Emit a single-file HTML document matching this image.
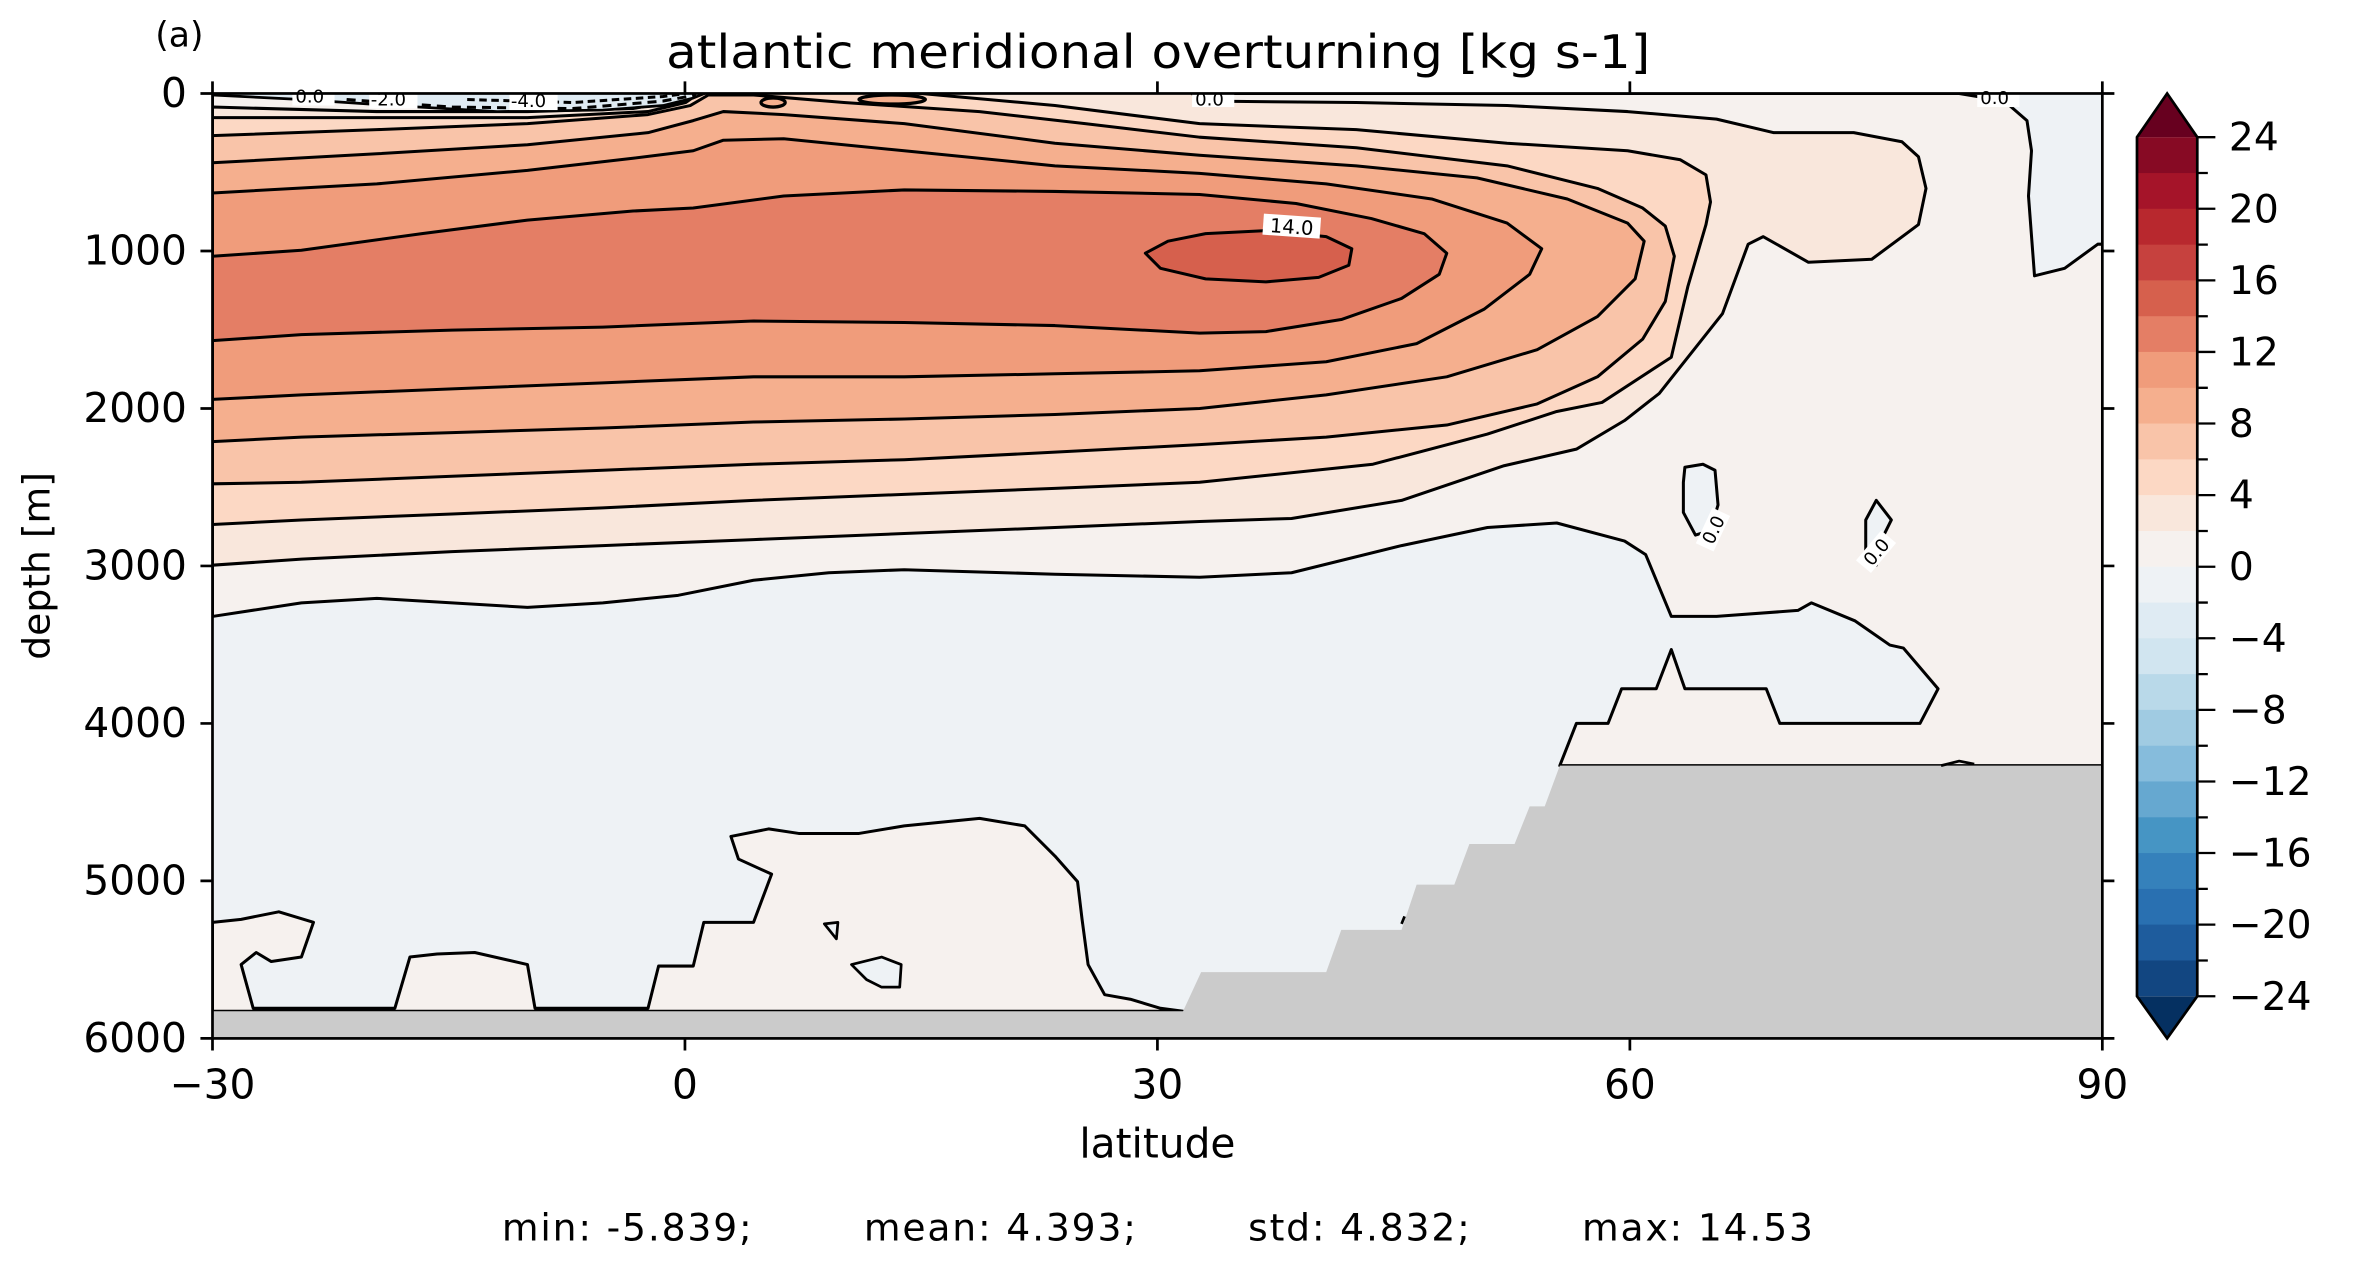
<!DOCTYPE html>
<html><head><meta charset="utf-8"><style>
html,body{margin:0;padding:0;background:#fff;}
svg{display:block;}
text{font-family:"DejaVu Sans","Liberation Sans",sans-serif;fill:#000;}
</style></head><body>
<svg width="2362" height="1263" viewBox="0 0 1567.3 838" xmlns="http://www.w3.org/2000/svg">
<defs><clipPath id="ax"><rect x="141" y="62" width="1254" height="627"/></clipPath></defs>
<g clip-path="url(#ax)" stroke-linejoin="round">
<rect x="141" y="62" width="1254" height="627" fill="#eef2f5"/>
<path fill="#f6f1ee" stroke="#000" stroke-width="2" fill-rule="evenodd" d="M141,62 L1300,62 L1330,67 L1345,80 L1348,100 L1346,130 L1350,183 L1370,178 L1392,162 L1396,162 L1396,508 L1035,508 L1046,480 L1067,480 L1076,457 L1099,457 L1109,431 L1118,457 L1172,457 L1181,480 L1274,480 L1286,457 L1263,430 L1254,428 L1231,412 L1202,400 L1193,405 L1139,409 L1109,409 L1092,368 L1078,359 L1033,347 L987,350 L930,362 L857,380 L796,383 L700,381 L600,378 L550,380 L500,385 L450,395 L400,400 L350,403 L300,400 L250,397 L200,400 L141,409 Z"/>
<path fill="#f9e7dc" stroke="#000" stroke-width="2" d="M141,71 L250,74 L350,74 L420,72 L452,66 L460,61 L790,61 L796,67 L900,68 L1000,70 L1080,74 L1139,79 L1177,88 L1230,88 L1262,94 L1273,104 L1278,125 L1273,149 L1242,172 L1200,174 L1170,157 L1160,162 L1143,208 L1101,261 L1078,279 L1046,298 L998,309 L930,332 L857,344 L796,346 L700,350 L600,354 L500,358 L400,362 L300,366 L200,371 L141,375 Z"/>
<path fill="#fcd8c4" stroke="#000" stroke-width="2" d="M141,78 L250,78 L350,78 L430,74 L455,68 L465,61 L600,61 L700,70 L796,82 L900,86 L1000,95 L1080,100 L1115,106 L1132,116 L1135,134 L1132,149 L1120,190 L1109,237 L1063,267 L1033,273 L987,288 L911,308 L796,320 L700,324 L600,328 L500,332 L400,337 L300,341 L200,345 L141,348 Z"/>
<path fill="#f9c4a9" stroke="#000" stroke-width="2" d="M141,90 L250,86 L350,82 L430,76 L458,70 L470,63 L500,63 L560,68 L650,74 L720,82 L796,91 L900,98 L1000,110 L1060,125 L1090,138 L1105,150 L1111,170 L1105,200 L1090,225 L1060,250 L1020,268 L960,282 L880,290 L796,295 L700,300 L600,305 L500,308 L400,312 L300,316 L200,320 L141,321 Z"/>
<path fill="#f5af8e" stroke="#000" stroke-width="2" d="M141,108 L250,102 L350,96 L430,88 L460,80 L480,74 L520,76 L600,82 L700,95 L796,103 L900,110 L980,118 L1040,132 L1080,148 L1091,160 L1085,185 L1060,210 L1020,232 L960,250 L880,262 L796,271 L700,275 L600,278 L500,280 L400,284 L300,287 L200,290 L141,293 Z"/>
<path fill="#f09c7b" stroke="#000" stroke-width="2" d="M141,128 L250,122 L350,113 L420,105 L460,100 L480,93 L520,92 L600,100 L700,110 L796,115 L880,122 L950,132 L1000,148 L1023,165 L1015,182 L985,205 L940,228 L880,240 L796,246 L700,248 L600,250 L500,250 L400,254 L300,258 L200,262 L141,265 Z"/>
<path fill="#e47e65" stroke="#000" stroke-width="2" d="M141,170 L200,166 L280,155 L350,146 L420,140 L460,138 L520,130 L600,126 L700,127 L796,129 L860,135 L910,145 L945,155 L960,168 L955,182 L930,198 L890,212 L840,220 L796,221 L700,216 L600,214 L500,213 L400,217 L300,219 L200,222 L141,226 Z"/>
<path fill="#d6604d" stroke="#000" stroke-width="2" d="M760,168 L775,160 L800,155 L840,153 L880,157 L897,165 L895,176 L875,184 L840,187 L800,185 L770,178 Z"/>
<ellipse cx="513" cy="68" rx="8" ry="3" fill="#f5af8e" stroke="#000" stroke-width="2.2"/>
<ellipse cx="592" cy="66" rx="22" ry="3" fill="#f5af8e" stroke="#000" stroke-width="2.2"/>
<path fill="#eef2f5" stroke="#000" stroke-width="2" d="M1118,310 L1130,308 L1138,312 L1140,335 L1135,352 L1125,355 L1117,340 L1117,320 Z"/>
<path fill="#eef2f5" stroke="#000" stroke-width="2" d="M1238,345 L1245,332 L1255,345 L1250,355 L1245,375 L1238,365 Z"/>
<path fill="#f6f1ee" stroke="#000" stroke-width="2" d="M141,612 L160,610 L185,605 L208,612 L200,635 L180,638 L170,632 L160,640 L168,669 L262,669 L272,635 L290,633 L315,632 L350,640 L355,669 L430,669 L437,641 L460,641 L467,612 L500,612 L512,580 L490,570 L485,555 L510,550 L530,553 L570,553 L600,548 L630,545 L650,543 L680,548 L700,568 L715,585 L718,610 L722,640 L733,660 L750,663 L770,669 L785,671 L141,671 Z"/>
<path fill="#eef2f5" stroke="#000" stroke-width="1.8" d="M547,613 L556,612 L555,623 Z"/>
<path fill="#eef2f5" stroke="#000" stroke-width="1.8" d="M565,640 L585,635 L598,640 L597,655 L585,655 L575,650 Z"/>
<path fill="#cbcbcb" d="M141,671 L785,671 L797,645 L880,645 L890,617 L930,617 L940,587 L965,587 L975,560 L1005,560 L1015,535 L1025,535 L1035,508 L1396,508 L1396,690 L141,690 Z"/>
<path fill="none" stroke="#000" stroke-width="1.8" d="M1288,508 L1300,505 L1310,507"/>
<path fill="none" stroke="#000" stroke-width="1.8" d="M930,613 L932,608"/>
<path fill="#dfebf3" stroke="#000" stroke-width="1.8" d="M141,63 L200,66 L260,70 L330,74 L400,73 L440,70 L460,65 L470,61 L141,61 Z"/>
<path fill="none" stroke="#000" stroke-width="2" stroke-dasharray="6,4" d="M230,66 L300,71 L380,72 L440,67 L462,63"/>
<path fill="none" stroke="#000" stroke-width="2" stroke-dasharray="5,3" d="M310,66 L380,68 L440,64 L455,62"/>
</g>
<g font-size="12">
<rect x="194" y="58" width="28" height="12" fill="#fff"/><text x="196" y="68">0.0</text>
<rect x="245" y="60" width="32" height="12" fill="#fff"/><text x="246" y="70">-2.0</text>
<rect x="338" y="61" width="32" height="12" fill="#fff"/><text x="339" y="71">-4.0</text>
<rect x="791" y="60" width="28" height="11" fill="#fff"/><text x="793" y="70">0.0</text>
<rect x="1312" y="60" width="28" height="11" fill="#fff"/><text x="1314" y="69">0.0</text>
<g transform="translate(857,152) rotate(4)"><rect x="-19" y="-9" width="38" height="14" fill="#fff"/><text x="0" y="3" text-anchor="middle" font-size="13">14.0</text></g>
<g transform="translate(1138,352) rotate(-65)"><rect x="-13" y="-8" width="26" height="13" fill="#fff"/><text x="0" y="3" text-anchor="middle">0.0</text></g>
<g transform="translate(1246,367) rotate(-50)"><rect x="-13" y="-8" width="26" height="13" fill="#fff"/><text x="0" y="3" text-anchor="middle">0.0</text></g>
</g>
<g stroke="#000" stroke-width="1.8" fill="none">
<rect x="141" y="62" width="1254" height="627"/>
<path d="M141,689 v8 M454.5,689 v8 M768,689 v8 M1081.5,689 v8 M1395,689 v8 M141,62 v-8 M454.5,62 v-8 M768,62 v-8 M1081.5,62 v-8 M1395,62 v-8"/>
<path d="M141,62 h-8 M141,166.5 h-8 M141,271 h-8 M141,375.5 h-8 M141,480 h-8 M141,584.5 h-8 M141,689 h-8 M1395,62 h8 M1395,166.5 h8 M1395,271 h8 M1395,375.5 h8 M1395,480 h8 M1395,584.5 h8 M1395,689 h8"/>
</g>
<g font-size="27">
<g text-anchor="end">
<text x="124" y="71">0</text><text x="124" y="175.5">1000</text><text x="124" y="280">2000</text><text x="124" y="384.5">3000</text><text x="124" y="489">4000</text><text x="124" y="593.5">5000</text><text x="124" y="698">6000</text>
</g>
<g text-anchor="middle">
<text x="141" y="729">−30</text><text x="454.5" y="729">0</text><text x="768" y="729">30</text><text x="1081.5" y="729">60</text><text x="1395" y="729">90</text>
<text x="768" y="768" font-size="27">latitude</text>
</g>
<text x="442" y="45" font-size="31" textLength="653" lengthAdjust="spacingAndGlyphs">atlantic meridional overturning [kg s-1]</text>
<text x="0" y="0" transform="translate(33,375.5) rotate(-90)" text-anchor="middle" font-size="25">depth [m]</text>
<text x="103" y="31" font-size="23">(a)</text>
<text x="333" y="823" font-size="25" xml:space="preserve" textLength="870">min: -5.839;        mean: 4.393;        std: 4.832;        max: 14.53</text>
</g>
<g>
<polygon points="1418,91 1438,62 1458,91" fill="#67001f"/>
<polygon points="1418,661 1438,689 1458,661" fill="#053061"/>
<rect x="1418" y="91.0" width="40" height="24.3" fill="#870a24"/>
<rect x="1418" y="114.8" width="40" height="24.3" fill="#a51429"/>
<rect x="1418" y="138.5" width="40" height="24.3" fill="#b8282e"/>
<rect x="1418" y="162.3" width="40" height="24.3" fill="#c6413e"/>
<rect x="1418" y="186.0" width="40" height="24.3" fill="#d6604d"/>
<rect x="1418" y="209.8" width="40" height="24.3" fill="#e47e65"/>
<rect x="1418" y="233.5" width="40" height="24.3" fill="#f09c7b"/>
<rect x="1418" y="257.3" width="40" height="24.3" fill="#f5af8e"/>
<rect x="1418" y="281.0" width="40" height="24.3" fill="#f9c4a9"/>
<rect x="1418" y="304.8" width="40" height="24.3" fill="#fcd8c4"/>
<rect x="1418" y="328.5" width="40" height="24.3" fill="#f9e7dc"/>
<rect x="1418" y="352.3" width="40" height="24.3" fill="#f6f1ee"/>
<rect x="1418" y="376.0" width="40" height="24.3" fill="#eef2f5"/>
<rect x="1418" y="399.8" width="40" height="24.3" fill="#dfebf3"/>
<rect x="1418" y="423.5" width="40" height="24.3" fill="#d1e5f0"/>
<rect x="1418" y="447.3" width="40" height="24.3" fill="#b9d9e9"/>
<rect x="1418" y="471.0" width="40" height="24.3" fill="#a0cbe2"/>
<rect x="1418" y="494.8" width="40" height="24.3" fill="#86bcdc"/>
<rect x="1418" y="518.5" width="40" height="24.3" fill="#66a8d0"/>
<rect x="1418" y="542.3" width="40" height="24.3" fill="#4695c4"/>
<rect x="1418" y="566.0" width="40" height="24.3" fill="#3581bb"/>
<rect x="1418" y="589.8" width="40" height="24.3" fill="#2970b1"/>
<rect x="1418" y="613.5" width="40" height="24.3" fill="#1e5c9d"/>
<rect x="1418" y="637.3" width="40" height="23.7" fill="#124681"/>
<polygon points="1418,91 1438,62 1458,91 1458,661 1438,689 1418,661" fill="none" stroke="#000" stroke-width="1.8"/>
<g stroke="#000" stroke-width="1.5">
<path d="M1458,91 h12 M1458,138.5 h12 M1458,186 h12 M1458,233.5 h12 M1458,281 h12 M1458,328.5 h12 M1458,376 h12 M1458,423.5 h12 M1458,471 h12 M1458,518.5 h12 M1458,566 h12 M1458,613.5 h12 M1458,661 h12"/>
<path d="M1458,114.8 h7 M1458,162.3 h7 M1458,209.8 h7 M1458,257.3 h7 M1458,304.8 h7 M1458,352.3 h7 M1458,399.8 h7 M1458,447.3 h7 M1458,494.8 h7 M1458,542.3 h7 M1458,589.8 h7 M1458,637.3 h7"/>
</g>
<g font-size="26">
<text x="1479" y="100">24</text><text x="1479" y="147.5">20</text><text x="1479" y="195">16</text><text x="1479" y="242.5">12</text><text x="1479" y="290">8</text><text x="1479" y="337.5">4</text><text x="1479" y="385">0</text>
<text x="1479" y="432.5">−4</text><text x="1479" y="480">−8</text><text x="1479" y="527.5">−12</text><text x="1479" y="575">−16</text><text x="1479" y="622.5">−20</text><text x="1479" y="670">−24</text>
</g>
</g>
</svg>
</body></html>
